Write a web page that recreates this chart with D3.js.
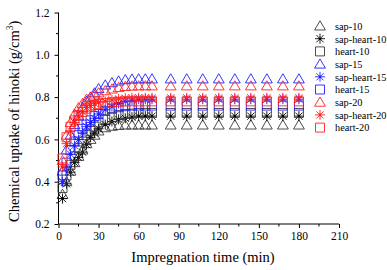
<!DOCTYPE html>
<html>
<head>
<meta charset="utf-8">
<script src="https://cdn.jsdelivr.net/npm/d3@7"></script>
<style>
  body { margin: 0; background: #fff; }
  text { font-family: "Liberation Serif", "Times New Roman", serif; fill: #000; }
</style>
</head>
<body>
<svg width="387" height="270"></svg>
<script>
  // impregnation time (min)
  const times = [3, 6, 9, 12, 15, 18, 21, 24, 27, 30, 35, 40, 45, 50, 55, 60, 65, 70,
    84, 96, 108, 120, 132, 144, 156, 168, 180];

  // chemical uptake (g/cm3)
  const sap10 = [0.34, 0.40, 0.45, 0.49, 0.52, 0.55, 0.58, 0.60, 0.62, 0.64, 0.655, 0.662, 0.666, 0.668, 0.668, 0.668, 0.668, 0.668,
    0.668, 0.668, 0.668, 0.668, 0.668, 0.668, 0.668, 0.668, 0.668];
  const sapHeart10 = [0.32, 0.39, 0.445, 0.49, 0.515, 0.54, 0.575, 0.61, 0.63, 0.65, 0.67, 0.685, 0.695, 0.70, 0.705, 0.71, 0.71, 0.71,
    0.71, 0.71, 0.71, 0.71, 0.71, 0.71, 0.71, 0.71, 0.71];
  const heart10 = [0.37, 0.43, 0.48, 0.52, 0.56, 0.59, 0.62, 0.64, 0.66, 0.68, 0.695, 0.705, 0.715, 0.72, 0.722, 0.725, 0.725, 0.725,
    0.725, 0.725, 0.725, 0.725, 0.725, 0.725, 0.725, 0.725, 0.725];
  const sap15 = [0.45, 0.55, 0.62, 0.67, 0.71, 0.75, 0.78, 0.80, 0.82, 0.84, 0.857, 0.868, 0.876, 0.882, 0.885, 0.886, 0.886, 0.886,
    0.886, 0.886, 0.886, 0.886, 0.886, 0.886, 0.886, 0.886, 0.886];
  const sapHeart15 = [0.40, 0.47, 0.53, 0.57, 0.60, 0.63, 0.66, 0.68, 0.70, 0.72, 0.74, 0.755, 0.77, 0.78, 0.785, 0.79, 0.79, 0.79,
    0.79, 0.79, 0.79, 0.79, 0.79, 0.79, 0.79, 0.79, 0.79];
  const heart15 = [0.43, 0.49, 0.55, 0.59, 0.62, 0.65, 0.67, 0.69, 0.71, 0.72, 0.735, 0.745, 0.752, 0.757, 0.76, 0.76, 0.76, 0.76,
    0.76, 0.76, 0.76, 0.76, 0.76, 0.76, 0.76, 0.76, 0.76];
  const sap20 = [0.50, 0.62, 0.68, 0.72, 0.75, 0.77, 0.79, 0.80, 0.81, 0.82, 0.83, 0.838, 0.845, 0.85, 0.852, 0.853, 0.853, 0.853,
    0.853, 0.853, 0.853, 0.853, 0.853, 0.853, 0.853, 0.853, 0.853];
  const sapHeart20 = [0.47, 0.58, 0.64, 0.68, 0.71, 0.73, 0.75, 0.76, 0.77, 0.775, 0.78, 0.787, 0.792, 0.795, 0.797, 0.797, 0.797, 0.797,
    0.797, 0.797, 0.797, 0.797, 0.797, 0.797, 0.797, 0.797, 0.797];
  const heart20 = [0.51, 0.61, 0.66, 0.69, 0.715, 0.73, 0.745, 0.755, 0.762, 0.768, 0.772, 0.776, 0.778, 0.78, 0.78, 0.78, 0.78, 0.78,
    0.78, 0.78, 0.78, 0.78, 0.78, 0.78, 0.78, 0.78, 0.78];

  const names = ['sap-10', 'sap-heart-10', 'heart-10', 'sap-15', 'sap-heart-15', 'heart-15',
    'sap-20', 'sap-heart-20', 'heart-20'];
  const valueLists = [sap10, sapHeart10, heart10, sap15, sapHeart15, heart15, sap20, sapHeart20, heart20];
  const shapes = ['triangle', 'star', 'square', 'triangle', 'star', 'square', 'triangle', 'star', 'square'];
  const colors = ['#3a3a3a', '#000000', '#3a3a3a', '#1f1fff', '#1f1fff', '#1f1fff', '#ff2020', '#ff2020', '#ff2020'];

  const xTicks = [0, 30, 60, 90, 120, 150, 180, 210];
  const yTicks = [0.2, 0.4, 0.6, 0.8, 1.0, 1.2];

  const svg = d3.select('svg');
  const margin = { top: 12.5, left: 58.5, right: 48, bottom: 46 };
  const width = +svg.attr('width');
  const height = +svg.attr('height');
  const serif = '"Liberation Serif", "Times New Roman", serif';

  const xScale = d3.scaleLinear().domain([0, 210]).range([margin.left, width - margin.right]);
  const yScale = d3.scaleLinear().domain([0.2, 1.2]).range([height - margin.bottom, margin.top]);

  // marker shapes
  const markerPath = shape => {
    if (shape === 'triangle') return 'M0,-5.2L5.4,4L-5.4,4Z';
    if (shape === 'square') return 'M-4.5,-4.5h9v9h-9Z';
    return 'M-5,0H5M0,-5V5M-3.6,-3.6L3.6,3.6M-3.6,3.6L3.6,-3.6';
  };

  const drawMarker = (sel, shape, color) => {
    sel.append('path')
      .attr('d', markerPath(shape))
      .attr('fill', 'none')
      .attr('stroke', color)
      .attr('stroke-width', 0.9);
    if (shape === 'star') {
      sel.append('circle').attr('r', 1.3).attr('fill', color);
    }
  };

  // axes
  const xAxis = d3.axisBottom(xScale).tickValues(xTicks).tickSize(4).tickPadding(4);
  const yAxis = d3.axisLeft(yScale).tickValues(yTicks).tickSize(4).tickPadding(5)
    .tickFormat(d3.format('.1f'));

  const xAxisG = svg.append('g')
    .attr('transform', `translate(0,${height - margin.bottom})`)
    .call(xAxis);
  const yAxisG = svg.append('g')
    .attr('transform', `translate(${margin.left},0)`)
    .call(yAxis);

  [xAxisG, yAxisG].forEach(g => {
    g.attr('font-family', serif);
    g.selectAll('text').attr('font-size', 11.5);
    g.selectAll('line').attr('stroke', '#000');
  });
  xAxisG.select('.domain').attr('d', `M${xScale(0)},0H${xScale(210)}`).attr('stroke', '#000');
  yAxisG.select('.domain').attr('d', `M0,${yScale(0.2)}V${yScale(1.2)}`).attr('stroke', '#000');

  // minor ticks
  xAxisG.selectAll('.minor')
    .data(d3.range(15, 210, 30))
    .enter().append('line')
    .attr('x1', d => xScale(d)).attr('x2', d => xScale(d))
    .attr('y1', 0).attr('y2', 2.5)
    .attr('stroke', '#000');
  yAxisG.selectAll('.minor')
    .data(d3.range(0.3, 1.2, 0.2))
    .enter().append('line')
    .attr('y1', d => yScale(d)).attr('y2', d => yScale(d))
    .attr('x1', 0).attr('x2', -2.5)
    .attr('stroke', '#000');

  // axis titles
  svg.append('text')
    .attr('x', 203)
    .attr('y', 262)
    .attr('text-anchor', 'middle')
    .attr('font-family', serif)
    .attr('font-size', 14.5)
    .text('Impregnation time (min)');

  const yTitle = svg.append('text')
    .attr('transform', `translate(19,${(yScale(0.2) + yScale(1.2)) / 2 + 3}) rotate(-90)`)
    .attr('text-anchor', 'middle')
    .attr('font-family', serif)
    .attr('font-size', 14.5);
  yTitle.append('tspan').text('Chemical uptake of hinoki (g/cm');
  yTitle.append('tspan').attr('dy', -6).attr('font-size', 9.5).text('3');
  yTitle.append('tspan').attr('dy', 6).text(')');

  // data markers
  names.forEach((name, i) => {
    const g = svg.append('g').attr('class', 'series');
    times.forEach((t, j) => {
      const m = g.append('g')
        .attr('transform', `translate(${xScale(t)},${yScale(valueLists[i][j])})`);
      drawMarker(m, shapes[i], colors[i]);
    });
  });

  // legend
  const legend = svg.append('g').attr('transform', 'translate(320,26)');
  names.forEach((name, i) => {
    const row = legend.append('g').attr('transform', `translate(0,${i * 12.7})`);
    drawMarker(row, shapes[i], colors[i]);
    row.append('text')
      .attr('x', 15)
      .attr('y', 3.8)
      .attr('font-family', serif)
      .attr('font-size', 10.3)
      .text(name);
  });
</script>
</body>
</html>
